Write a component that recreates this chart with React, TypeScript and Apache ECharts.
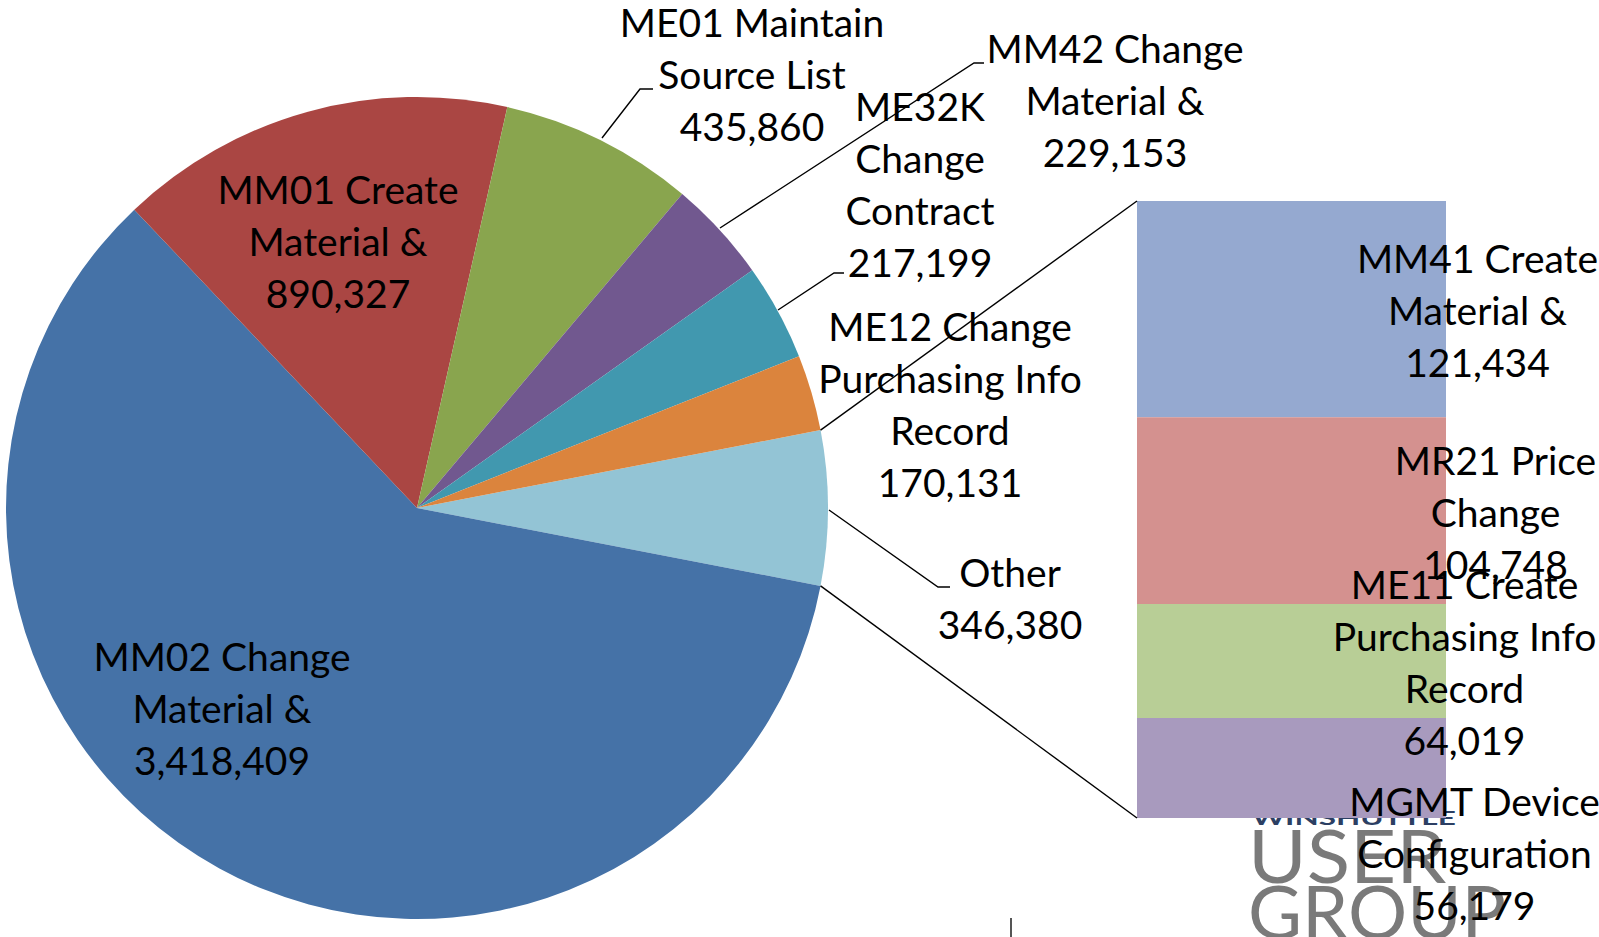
import React, { useEffect, useRef } from 'react';
import * as echarts from 'echarts';

// ---------- data ----------
const pieNames = [
  'Other',
  'MM02 Change\nMaterial &',
  'MM01 Create\nMaterial &',
  'ME01 Maintain\nSource List',
  'MM42 Change\nMaterial &',
  'ME32K\nChange\nContract',
  'ME12 Change\nPurchasing Info\nRecord',
];
const pieValues = [346380, 3418409, 890327, 435860, 229153, 217199, 170131];

const barNames = [
  'MM41 Create\nMaterial &',
  'MR21 Price\nChange',
  'ME11 Create\nPurchasing Info\nRecord',
  'MGMT Device\nConfiguration',
];
const barValues = [121434, 104748, 64019, 56179];

// ---------- styles / layout ----------
const pieColors = ['#93C4D5', '#4572A7', '#AA4643', '#89A54E', '#71588F', '#4198AF', '#DB843D'];
const barColors = ['#95A9D0', '#D4918F', '#B8CE96', '#A89ABE'];

const CX = 417;
const CY = 508;
const R = 411;
const GRID = { left: 1137, top: 201, width: 309, height: 617 };

const FONT = 'Lato, "Open Sans", sans-serif';
const FS = 39;
const LH = 52;

type PL = { x: number; y: number; line?: number[][] };
const pieLabelLayout: PL[] = [
  { x: 1010, y: 598, line: [[829, 510], [938, 587], [950, 587]] },
  { x: 222, y: 708 },
  { x: 338, y: 241 },
  { x: 752, y: 74, line: [[602, 138], [640, 89], [653, 89]] },
  { x: 1115, y: 100, line: [[720, 228], [974, 63], [984, 63]] },
  { x: 920, y: 184, line: [[778, 310], [834, 273], [844, 273]] },
  { x: 950, y: 404 },
];
const barLabelOffsets = [
  [186, 1],
  [204, 1],
  [173, 1],
  [183, 85],
];

const fmt = (v: number) => v.toLocaleString('en-US');

export default function App() {
  const ref = useRef<HTMLDivElement>(null);
  useEffect(() => {
    if (!ref.current) return;
    const chart = echarts.init(ref.current, null, { renderer: 'svg' });
    const pieTotal = pieValues.reduce((a, b) => a + b, 0);
    const barTotal = barValues.reduce((a, b) => a + b, 0);
    const half = (180 * pieValues[0]) / pieTotal;
    const rad = (half * Math.PI) / 180;
    const p1 = [CX + R * Math.cos(rad), CY - R * Math.sin(rad)];
    const p2 = [CX + R * Math.cos(rad), CY + R * Math.sin(rad)];

    const labelText = {
      color: '#000',
      fontFamily: FONT,
      fontSize: FS,
      lineHeight: LH,
    };

    const option: any = {
      animation: false,
      backgroundColor: '#fff',
      grid: { left: GRID.left, top: GRID.top, width: GRID.width, height: GRID.height },
      xAxis: { type: 'category', data: [''], show: false },
      yAxis: { type: 'value', min: 0, max: barTotal, inverse: true, show: false },
      graphic: [
        {
          type: 'text',
          x: 1252,
          y: 809,
          scaleX: 1.75,
          z: 0,
          style: { text: 'WINSHUTTLE', fill: '#2c3f63', font: 'bold 18px Lato, sans-serif', textVerticalAlign: 'top' },
        },
        {
          type: 'text',
          x: 1248,
          y: 854,
          scaleX: 1.08,
          z: 0,
          style: { text: 'USER', fill: '#7a7a7a', font: '400 74px Lato, sans-serif', textVerticalAlign: 'middle' },
        },
        {
          type: 'text',
          x: 1248,
          y: 910,
          scaleX: 1.0,
          z: 0,
          style: { text: 'GROUP', fill: '#7a7a7a', font: '400 74px Lato, sans-serif', textVerticalAlign: 'middle' },
        },
        {
          type: 'line',
          z: 0,
          shape: { x1: 1011, y1: 918, x2: 1011, y2: 937 },
          style: { stroke: '#555', lineWidth: 2 },
        },
        {
          type: 'line',
          z: 5,
          shape: { x1: p1[0], y1: p1[1], x2: GRID.left, y2: GRID.top },
          style: { stroke: '#000', lineWidth: 1.4 },
        },
        {
          type: 'line',
          z: 5,
          shape: { x1: p2[0], y1: p2[1], x2: GRID.left, y2: GRID.top + GRID.height },
          style: { stroke: '#000', lineWidth: 1.4 },
        },
      ],
      series: [
        {
          type: 'pie',
          center: [CX, CY],
          radius: R,
          startAngle: half,
          clockwise: true,
          avoidLabelOverlap: false,
          emphasis: { disabled: true },
          itemStyle: { borderWidth: 0 },
          label: {
            show: true,
            position: 'outside',
            align: 'center',
            formatter: (p: any) => `${p.name}\n${fmt(p.value)}`,
            ...labelText,
          },
          labelLine: { show: true, lineStyle: { color: '#000', width: 1.4 } },
          labelLayout: (p: any) => {
            const L = pieLabelLayout[p.dataIndex];
            const o: any = { x: L.x, y: L.y, align: 'center', verticalAlign: 'middle' };
            if (L.line) o.labelLinePoints = L.line;
            return o;
          },
          data: pieNames.map((n, i) => ({
            name: n,
            value: pieValues[i],
            itemStyle: { color: pieColors[i] },
            labelLine: { show: !!pieLabelLayout[i].line },
          })),
        },
        ...barNames.map((n, i) => ({
          type: 'bar',
          name: n,
          stack: 'other',
          barWidth: '100%',
          barCategoryGap: 0,
          emphasis: { disabled: true },
          itemStyle: { color: barColors[i] },
          label: {
            show: true,
            position: 'inside',
            align: 'center',
            verticalAlign: 'middle',
            offset: barLabelOffsets[i],
            formatter: (p: any) => `${p.seriesName}\n${fmt(p.value)}`,
            ...labelText,
          },
          data: [barValues[i]],
        })),
      ],
    };
    chart.setOption(option);
    return () => chart.dispose();
  }, []);
  return <div ref={ref} style={{ position: 'fixed', left: 0, top: 0, width: 1599, height: 937 }} />;
}
